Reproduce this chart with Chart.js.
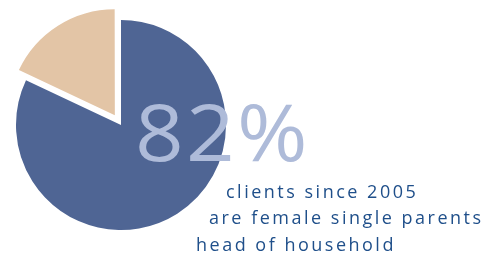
<!DOCTYPE html>
<html>
<head>
<meta charset="utf-8">
<script src="https://cdn.jsdelivr.net/npm/chart.js@4/dist/chart.umd.min.js"></script>
<style>
  body { margin: 0; background: #fff; }
  #wrap { position: relative; width: 493px; height: 255px; overflow: hidden; }
  #pieBox { position: absolute; left: -7px; top: -3px; width: 256px; height: 256px; }
  .big { position: absolute; left: 135px; top: 91px; font-family: "Open Sans", sans-serif;
         font-size: 79px; line-height: 1; letter-spacing: 2px; color: #aebbd9; white-space: nowrap;
         transform: scaleX(1.08); transform-origin: left top; }
  .line { position: absolute; font-family: "Open Sans", sans-serif; font-size: 18px;
          line-height: 1; letter-spacing: 2.5px; color: #1f4f8a; white-space: nowrap; }
</style>
</head>
<body>
<div id="wrap">
  <div id="pieBox"><canvas id="PieChart"></canvas></div>
  <div class="big" id="bigNum"></div>
  <div class="line" id="l1" style="left:226px; top:182px;"></div>
  <div class="line" id="l2" style="left:209px; top:208px;"></div>
  <div class="line" id="l3" style="left:196px; top:235px;"></div>
</div>
<script>
// data
var labels = ['female single parents', 'other'];
var shares = [82, 18];
var sliceColors = ['#4f6594', '#e3c5a6'];
var textLines = ['clients since 2005', 'are female single parents', 'head of household'];

document.getElementById('bigNum').textContent = shares[0] + '%';
document.getElementById('l1').textContent = textLines[0];
document.getElementById('l2').textContent = textLines[1];
document.getElementById('l3').textContent = textLines[2];

// the tan slice is pulled out; chart.js scales the offset down when drawing
const ctx = document.getElementById('PieChart').getContext('2d');
new Chart(ctx, {
    type: 'pie',
    data: {
        labels: labels,
        datasets: [{
            data: shares,
            backgroundColor: sliceColors,
            borderWidth: 0,
            offset: [0, 46]
        }]
    },
    options: {
        responsive: true,
        maintainAspectRatio: false,
        animation: false,
        events: [],
        plugins: { legend: { display: false }, tooltip: { enabled: false } }
    }
});
</script>
</body>
</html>
